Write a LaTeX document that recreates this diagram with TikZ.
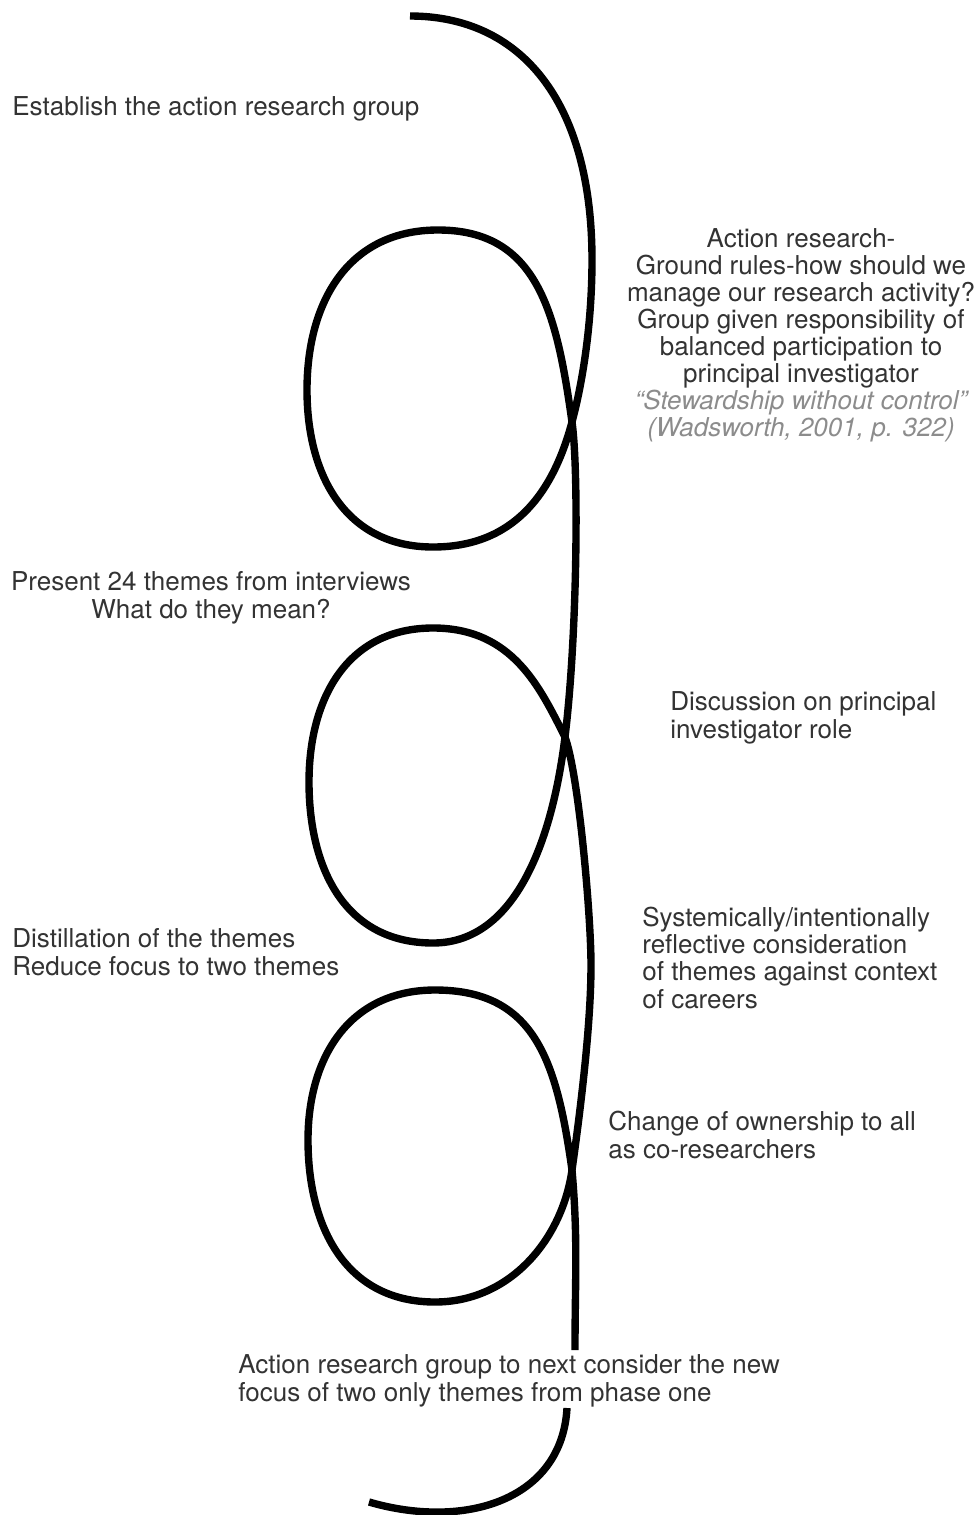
\documentclass[tikz,border=0pt]{standalone}
\usepackage{fontspec}
\setmainfont{TeX Gyre Heros}
\definecolor{ink}{HTML}{333333}
\definecolor{cite}{HTML}{8C8C8C}
\begin{document}
\begin{tikzpicture}
            \useasboundingbox (0,0) rectangle (19.54,-30.3);

            \coordinate (s) at (8.2,-0.32);
            \coordinate (a) at (11.84,-5.2);
            \coordinate (x1) at (11.44,-8.44);
            \coordinate (b1) at (8.66,-10.94);
            \coordinate (l1) at (6.14,-7.8);
            \coordinate (t1) at (8.76,-4.6);
            \coordinate (x2) at (11.3,-14.74);
            \coordinate (b2) at (8.66,-18.86);
            \coordinate (l2) at (6.18,-15.64);
            \coordinate (t2) at (8.66,-12.56);
            \coordinate (v2) at (11.82,-19.3);
            \coordinate (x3) at (11.44,-23.4);
            \coordinate (b3) at (8.7,-26.04);
            \coordinate (l3) at (6.16,-22.8);
            \coordinate (t3) at (8.7,-19.8);
            \coordinate (v3) at (11.5,-27);
            \coordinate (r) at (11.34,-28.16);
            \coordinate (e) at (7.38,-30.04);

            \begin{scope}[every path/.style={draw,line width=4.2pt}]
                \path (s) .. controls (10.4,-0.32) and (11.84,-2) .. (a)
                    to[out=270,in=75,out distance=1.2cm,in distance=0.9cm] (x1)
                    to[out=255,in=0,out distance=1.5cm,in distance=1.6cm] (b1)
                    to[out=180,in=270,looseness=1.1] (l1)
                    to[out=90,in=180,looseness=1.1] (t1)
                    to[out=0,in=98,out distance=2cm,in distance=2.2cm] (x1)
                    to[out=278,in=83,out distance=1cm,in distance=2cm] (x2)
                    to[out=263,in=0,out distance=2.2cm,in distance=1.6cm] (b2)
                    to[out=180,in=270,looseness=1.1] (l2)
                    to[out=90,in=180,looseness=1.1] (t2)
                    to[out=0,in=117,out distance=1.6cm,in distance=1.1cm] (x2)
                    to[out=290,in=90,out distance=0.8cm,in distance=1cm] (v2)
                    to[out=270,in=82,out distance=1.2cm,in distance=1.2cm] (x3)
                    to[out=262,in=0,out distance=1.4cm,in distance=1.5cm] (b3)
                    to[out=180,in=270,looseness=1.1] (l3)
                    to[out=90,in=180,looseness=1.1] (t3)
                    to[out=0,in=98,out distance=2cm,in distance=2.2cm] (x3)
                    to[out=275,in=90] (v3);
                \path (r) .. controls (11.24,-30) and (9.3,-30.6) .. (e);
            \end{scope}

            \begin{scope}[every node/.style={inner sep=0,text=ink,font=\fontsize{14.8}{15.4}\selectfont}]
                \node[anchor=base west,align=left] (est) at (0.24,-2.3) {Establish the action research group};
                \node[anchor=base,align=center] (rules) at (16.02,-8.73) {Action research-\\Ground rules-how should we\\manage our research activity?\\Group given responsibility of\\balanced participation to\\principal investigator\\{\color{cite}\itshape “Stewardship without control”}\\{\color{cite}\itshape (Wadsworth, 2001, p. 322)}};
                \node[anchor=base,align=center] (themes) at (4.22,-12.36) {Present 24 themes from interviews\\What do they mean?};
                \node[anchor=base west,align=left] (role) at (13.4,-14.76) {Discussion on principal\\investigator role};
                \node[anchor=base west,align=left] (distil) at (0.24,-19.5) {Distillation of the themes\\Reduce focus to two themes};
                \node[anchor=base west,align=left] (reflect) at (12.84,-20.16) {Systemically/intentionally\\reflective consideration\\of themes against context\\of careers};
                \node[anchor=base west,align=left] (owner) at (12.16,-23.16) {Change of ownership to all\\as co-researchers};
                \node[anchor=base west,align=left] (next) at (4.76,-28.02) {Action research group to next consider the new\\focus of two only themes from phase one};
            \end{scope}
        \end{tikzpicture}
\end{document}
